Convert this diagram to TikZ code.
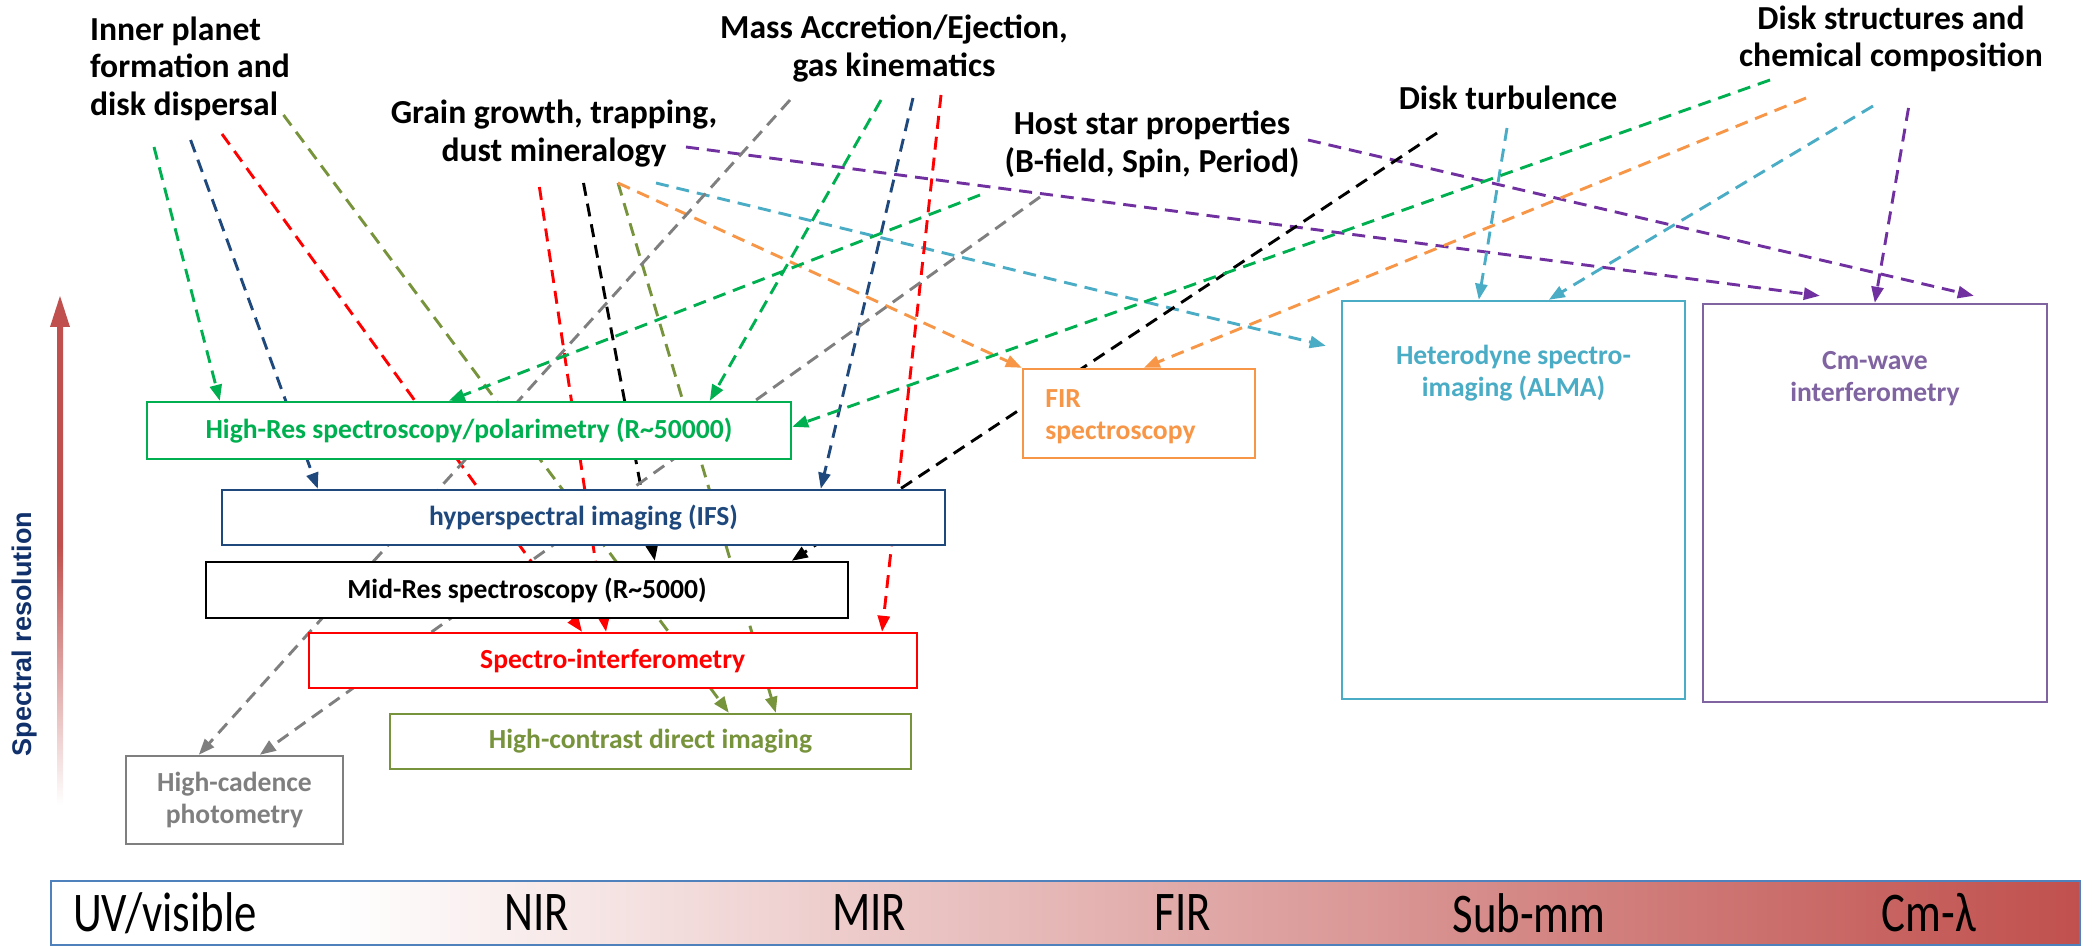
\documentclass[tikz,border=0pt]{standalone}
\usepackage{fontspec}
\usepackage{graphicx}
\setmainfont{Carlito}
\newfontfamily\arialf{Liberation Sans}
\newfontfamily\barfont[FakeStretch=0.8]{Carlito}
\usetikzlibrary{arrows.meta,backgrounds,calc}
\definecolor{cgreen}{HTML}{00B050}
\definecolor{cblue}{HTML}{1F497D}
\definecolor{cred}{HTML}{FF0000}
\definecolor{colive}{HTML}{77933C}
\definecolor{cgray}{HTML}{7F7F7F}
\definecolor{corange}{HTML}{F79646}
\definecolor{ccyan}{HTML}{4BACC6}
\definecolor{cpurple}{HTML}{7030A0}
\definecolor{cpbox}{HTML}{8064A2}
\definecolor{barred}{HTML}{C0504D}
\definecolor{barblue}{HTML}{4F81BD}
\definecolor{navy}{HTML}{10316B}
\pgfdeclarehorizontalshading{barshade}{100bp}{color(0bp)=(white); color(25bp)=(white); color(32bp)=(white); color(75bp)=(barred); color(100bp)=(barred)}
\pgfdeclareverticalshading{axshade}{100bp}{color(0bp)=(white); color(25bp)=(white); color(52bp)=(barred); color(100bp)=(barred)}
\newcommand\bxfont{\fontsize{13.8}{16}\selectfont\bfseries}
\newcommand\hdfont{\fontsize{16.8}{18.75}\selectfont\bfseries}
\begin{document}
\begin{tikzpicture}[x=0.5pt,y=-0.5pt,
  box/.style={draw, line width=1.2pt, fill=white, inner sep=0pt, font=\bxfont, align=center},
  conn/.style={line width=1.45pt, dash pattern=on 6.5pt off 4pt, -{Triangle[length=8pt,width=6pt]}},
  head/.style={font=\hdfont, align=center, inner sep=0pt},
  barlab/.style={font=\barfont\fontsize{28}{30}\selectfont, inner sep=0pt},
  intext/.style={font=\bxfont, inner sep=0pt}]
\useasboundingbox (0,0) rectangle (2093,946);

% headings
\node[head, align=left] (hinner) at (190,68.5) {Inner planet\\formation and\\disk dispersal};
\node[head] (hgrain) at (554,133.5) {Grain growth, trapping,\\dust mineralogy};
\node[head] (hmass) at (894,48.5) {Mass Accretion/Ejection,\\gas kinematics};
\node[head] (hhost) at (1152,144.5) {Host star properties\\(B-field, Spin, Period)};
\node[head] (hturb) at (1508,98) {Disk turbulence};
\node[head] (hstruct) at (1891,39) {Disk structures and\\chemical composition};

% boxes
\node[box, draw=cgreen, text=cgreen, minimum width=322pt, minimum height=28.5pt] (hires) at (469,430.5) {High-Res spectroscopy/polarimetry (R\textasciitilde 50000)};
\node[box, draw=cblue, text=cblue, minimum width=361.5pt, minimum height=27.5pt] (ifs) at (583.5,517.5) {hyperspectral imaging (IFS)};
\node[box, draw=black, text=black, minimum width=321pt, minimum height=28pt] (midres) at (527,590) {Mid-Res spectroscopy (R\textasciitilde 5000)};
\node[box, draw=cred, text=cred, minimum width=304pt, minimum height=27.5pt] (spint) at (612.75,660.5) {Spectro-interferometry};
\node[box, draw=colive, text=colive, minimum width=260.5pt, minimum height=27.5pt] (hcont) at (650.5,741.5) {High-contrast direct imaging};
\node[box, draw=cgray, text=cgray, minimum width=108.5pt, minimum height=44pt] (hcad) at (234.5,800) {High-cadence\\photometry};
\node[box, draw=corange, minimum width=116pt, minimum height=44.5pt] (fir) at (1139,413.5) {};
\node[box, draw=ccyan, minimum width=171.5pt, minimum height=199pt] (het) at (1513.5,500) {};
\node[box, draw=cpbox, minimum width=172pt, minimum height=199pt] (cmw) at (1875,503) {};
\node[intext, anchor=west, align=left, text=corange] (firtext) at (1045,416.5) {FIR\\spectroscopy};
\node[intext, align=center, text=ccyan] (hettext) at (1513.5,373) {Heterodyne spectro-\\imaging (ALMA)};
\node[intext, align=center, text=cpbox] (cmwtext) at (1875,379) {Cm-wave\\interferometry};

% start points of connectors
\coordinate (ip1) at (154,147);
\coordinate (ip2) at (190.6,140);
\coordinate (ip3) at (222,134);
\coordinate (ip4) at (283.5,115);
\coordinate (g1) at (539.4,187);
\coordinate (g2) at (583.5,183);
\coordinate (g3) at (618,183);
\coordinate (g4) at (656,183);
\coordinate (g5) at (686,147);
\coordinate (m1) at (790,100);
\coordinate (m2) at (881,100);
\coordinate (m3) at (913,98);
\coordinate (m4) at (941,95);
\coordinate (h1) at (1308,140);
\coordinate (h2) at (980,195);
\coordinate (h3) at (1040,197);
\coordinate (t1) at (1437,133);
\coordinate (t2) at (1507,128);
\coordinate (s1) at (1770,80);
\coordinate (s2) at (1806,98);
\coordinate (s3) at (1873,106);
\coordinate (s4) at (1908.5,108);

\begin{scope}[on background layer]
\draw[conn, cgreen] (ip1) -- ($(hires.north west)+(74,0)$);
\draw[conn, cblue] (ip2) -- ($(ifs.north west)+(97,0)$);
\draw[conn, cred] (ip3) -- ($(spint.north west)+(274.5,0)$);
\draw[conn, colive] (ip4) -- ($(hcont.north west)+(340,0)$);
\draw[conn, cred] (g1) -- ($(spint.north west)+(298.5,0)$);
\draw[conn, black] (g2) -- ($(midres.north west)+(450,0)$);
\draw[conn, colive] (g3) -- ($(hcont.north west)+(387,0)$);
\draw[conn, corange] (g3) -- (fir.north west);
\draw[conn, ccyan] (g4) -- ($(het.north west)+(-15,46)$);
\draw[conn, cpurple] (g5) -- ($(cmw.north west)+(118,-7)$);
\draw[conn, cgray] (m1) -- ($(hcad.north west)+(74,0)$);
\draw[conn, cgreen] (m2) -- ($(hires.north west)+(564,0)$);
\draw[conn, cblue] (m3) -- ($(ifs.north west)+(600,0)$);
\draw[conn, cred] (m4) -- ($(spint.north west)+(574.5,0)$);
\draw[conn, cpurple] (h1) -- ($(cmw.north west)+(272,-7)$);
\draw[conn, cgreen] (h2) -- ($(hires.north west)+(303,0)$);
\draw[conn, cgray] (h3) -- ($(hcad.north west)+(135,0)$);
\draw[conn, black] (t1) -- ($(midres.north west)+(587,0)$);
\draw[conn, ccyan] (t2) -- ($(het.north west)+(138,0)$);
\draw[conn, cgreen] (s1) -- ($(hires.north east)+(0,26)$);
\draw[conn, corange] (s2) -- ($(fir.north west)+(122,0)$);
\draw[conn, ccyan] (s3) -- ($(het.north west)+(208,0)$);
\draw[conn, cpurple] (s4) -- ($(cmw.north west)+(173,0)$);
\end{scope}

% spectral resolution axis
\shade[shading=axshade] (57,325) rectangle (63,805);
\fill[barred] (50,327) -- (70,327) -- (60,296) -- cycle;
\node[rotate=90, font=\fontsize{13.5}{14}\arialf\bfseries\selectfont, text=navy, inner sep=0pt] (axlab) at (25,634) {Spectral resolution};

% wavelength bar
\node[shade, shading=barshade, draw=barblue, line width=1pt, minimum width=1014.5pt, minimum height=32pt, inner sep=0pt] (bar) at (1065.5,913) {};
\node[barlab] (uv) at (165,913) {UV/visible};
\node[barlab] (nir) at (537,913) {NIR};
\node[barlab] (mir) at (869,913) {MIR};
\node[barlab] (firb) at (1183,913) {FIR};
\node[barlab] (submm) at (1529,913) {Sub-mm};
\node[barlab] (cml) at (1929,913) {Cm-λ};
\end{tikzpicture}
\end{document}
